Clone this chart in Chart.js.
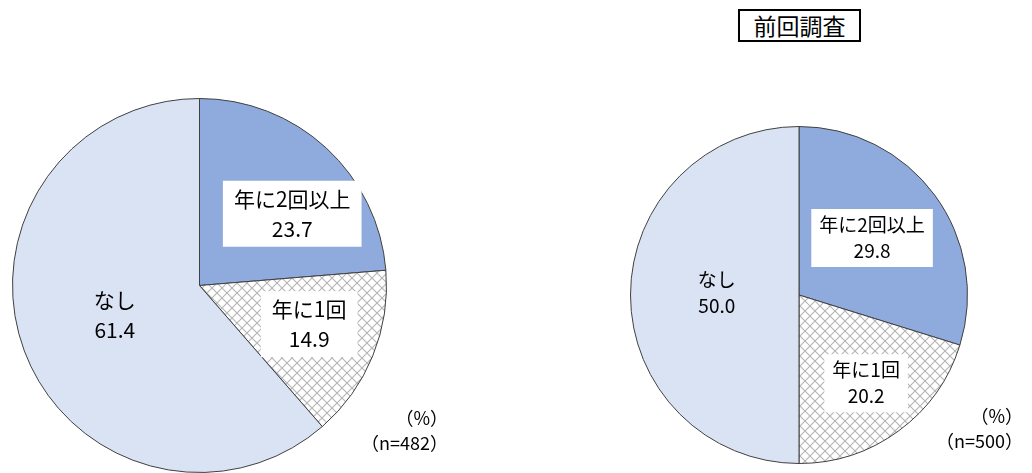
<!DOCTYPE html>
<html>
<head>
<meta charset="utf-8">
<script src="https://cdn.jsdelivr.net/npm/chart.js@4.4.0/dist/chart.umd.min.js"></script>
<style>
  body { margin: 0; background: #fff; width: 1032px; height: 473px; overflow: hidden; position: relative;
         font-family: "Noto Sans CJK JP", "Noto Sans", sans-serif; }
  .box { position: absolute; }
  .note { position: absolute; font-size: 18px; color: #000; text-align: right; line-height: 25px; }
  #title { position: absolute; left: 738px; top: 9px; width: 119px; height: 29px; border: 2px solid #000;
           font-size: 23px; line-height: 29px; text-align: center; background: #fff; }
</style>
</head>
<body>
<div id="title">前回調査</div>
<div class="box" style="left:12px;top:98px;width:375px;height:375px"><canvas id="cur"></canvas></div>
<div class="box" style="left:630px;top:126px;width:338px;height:338px"><canvas id="prev"></canvas></div>
<div class="note" style="left:340px;top:405px;width:108px">（%）<br>（n=482）</div>
<div class="note" style="left:915px;top:403px;width:108px">（%）<br>（n=500）</div>
<script>
const categories = ['年に2回以上', '年に1回', 'なし'];
const currentValues = [23.7, 14.9, 61.4];
const previousValues = [29.8, 20.2, 50.0];

// crosshatch fill like the Excel pattern
function hatch() {
  const c = document.createElement('canvas');
  c.width = 10; c.height = 10;
  const g = c.getContext('2d');
  g.fillStyle = '#fff';
  g.fillRect(0, 0, 10, 10);
  g.strokeStyle = '#b4b4b4';
  g.lineWidth = 1.1;
  g.beginPath();
  g.moveTo(-1, -1); g.lineTo(11, 11);
  g.moveTo(11, -1); g.lineTo(-1, 11);
  g.stroke();
  return g.createPattern(c, 'repeat');
}

const labelPlugin = {
  id: 'sliceLabels',
  afterDatasetsDraw(chart, args, opts) {
    const ctx = chart.ctx;
    const meta = chart.getDatasetMeta(0);
    const vals = chart.data.datasets[0].data;
    ctx.save();
    ctx.font = opts.size + 'px "Noto Sans CJK JP", sans-serif';
    ctx.textAlign = 'center';
    ctx.textBaseline = 'middle';
    meta.data.forEach((arc, i) => {
      const mid = (arc.startAngle + arc.endAngle) / 2 + opts.nudge[i] * Math.PI / 180;
      const r = arc.outerRadius * opts.dist[i];
      const x = arc.x + Math.cos(mid) * r;
      const y = arc.y + Math.sin(mid) * r;
      const lines = [chart.data.labels[i], vals[i].toFixed(1)];
      const lh = opts.lh;
      if (opts.box[i]) {
        const w = Math.max(...lines.map(t => ctx.measureText(t).width)) + opts.pad * 2;
        const h = lh * 2 + 6;
        ctx.fillStyle = '#fff';
        ctx.fillRect(x - w / 2, y - h / 2, w, h);
      }
      ctx.fillStyle = '#000';
      ctx.fillText(lines[0], x, y - lh / 2);
      ctx.fillText(lines[1], x, y + lh / 2);
    });
    ctx.restore();
  }
};

function makePie(id, values, lab) {
  return new Chart(document.getElementById(id), {
    type: 'pie',
    data: {
      labels: categories,
      datasets: [{
        data: values,
        backgroundColor: ['#8faadc', hatch(), '#dae3f3'],
        borderColor: '#404040',
        borderWidth: 1
      }]
    },
    options: {
      responsive: true,
      maintainAspectRatio: false,
      animation: false,
      layout: { padding: 0 },
      plugins: {
        legend: { display: false },
        tooltip: { enabled: false },
        sliceLabels: lab
      }
    },
    plugins: [labelPlugin]
  });
}

makePie('cur', currentValues, { size: 21, lh: 30, pad: 11, dist: [0.627, 0.622, 0.48], nudge: [9.6, -2.7, 1.2], box: [true, true, false] });
makePie('prev', previousValues, { size: 19, lh: 26, pad: 8, dist: [0.55, 0.658, 0.488], nudge: [-1.6, -0.9, 1.4], box: [true, true, false] });
</script>
</body>
</html>
